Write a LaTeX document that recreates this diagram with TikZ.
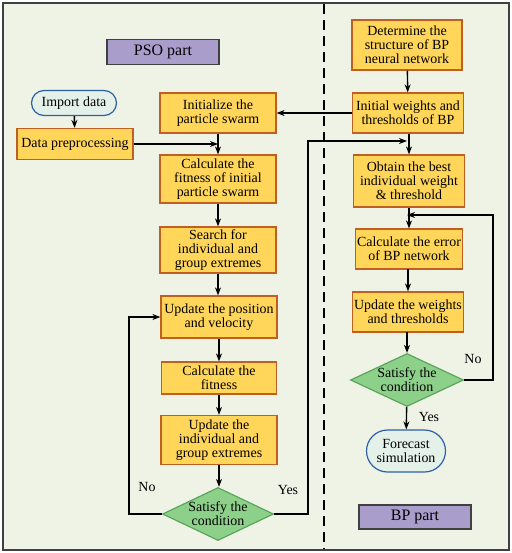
\documentclass[tikz,border=0pt]{standalone}
\usepackage{fontspec}
\setmainfont{Liberation Serif}
\newfontfamily\chartfont{Liberation Serif}
\usetikzlibrary{shapes.geometric,shapes.misc,arrows.meta}
\definecolor{bgfill}{RGB}{238,243,230}
\definecolor{boxfill}{RGB}{255,213,90}
\definecolor{boxline}{RGB}{192,96,32}
\definecolor{condfill}{RGB}{141,208,138}
\definecolor{condline}{RGB}{91,165,91}
\definecolor{endfill}{RGB}{228,241,232}
\definecolor{endline}{RGB}{46,95,168}
\definecolor{partfill}{RGB}{169,157,204}
\begin{document}
\begin{tikzpicture}[x=1bp,y=-1bp,
  every node/.style={font=\chartfont\fontsize{14}{14}\selectfont},
  box/.style={draw=boxline,fill=boxfill,line width=1.2bp,align=center,inner sep=0pt},
  cond/.style={diamond,aspect=2.1,draw=condline,fill=condfill,line width=1.2bp,align=center,inner sep=-2bp,minimum width=111bp,minimum height=53bp},
  term/.style={rounded rectangle,draw=endline,fill=endfill,line width=1.2bp,align=center,inner sep=0pt},
  part/.style={draw=black!75,fill=partfill,line width=1.2bp,inner sep=0pt,font=\chartfont\fontsize{16}{16}\selectfont},
  flow/.style={line width=1.4bp,-{Stealth[length=8bp,width=6bp]}}]
\useasboundingbox (0,0) rectangle (512,553);

%Shape: Frame
\draw [draw=black!75,fill=bgfill,line width=1.6bp] (3,3) rectangle (509,550);
%Straight Lines: divider
\draw [line width=1.5bp,dash pattern={on 10bp off 6bp}] (324,4) -- (324,549);

% PSO side
\draw (163,52) node [part,minimum width=112bp,minimum height=25bp] (psopart) {PSO part};
\draw (74,103) node [term,minimum width=85bp,minimum height=25bp] (import) {Import data};
\draw (75,144) node [box,minimum width=116bp,minimum height=31bp] (prep) {Data preprocessing};
\draw (218,113) node [box,minimum width=116bp,minimum height=40bp] (init) {Initialize the\\particle swarm};
\draw (218,179) node [box,minimum width=116bp,minimum height=48bp] (fitinit) {Calculate the\\fitness of initial\\particle swarm};
\draw (218,250) node [box,minimum width=116bp,minimum height=46bp] (search) {Search for\\individual and\\group extremes};
\draw (219,317) node [box,minimum width=116bp,minimum height=42bp] (updpos) {Update the position\\and velocity};
\draw (219,378) node [box,minimum width=115bp,minimum height=32bp] (fit) {Calculate the\\fitness};
\draw (219,440) node [box,minimum width=116bp,minimum height=49bp] (updext) {Update the\\individual and\\group extremes};
\draw (218,514) node [cond] (condpso) {Satisfy the\\condition};

% BP side
\draw (407,45) node [box,minimum width=110bp,minimum height=50bp] (structure) {Determine the\\structure of BP\\neural network};
\draw (408,113) node [box,minimum width=111bp,minimum height=40bp] (initw) {Initial weights and\\thresholds of BP};
\draw (409,181) node [box,minimum width=111bp,minimum height=52bp] (best) {Obtain the best\\individual weight\\\& threshold};
\draw (409,249) node [box,minimum width=107bp,minimum height=40bp] (error) {Calculate the error\\of BP network};
\draw (408,312) node [box,minimum width=111bp,minimum height=40bp] (updw) {Update the weights\\and thresholds};
\draw (407,380) node [cond,minimum width=113bp] (condbp) {Satisfy the\\condition};
\draw (406,451) node [term,minimum width=79bp,minimum height=42bp] (forecast) {Forecast\\simulation};
\draw (415,517) node [part,minimum width=112bp,minimum height=24bp] (bppart) {BP part};

\coordinate (joinbp) at (407,141);
\coordinate (joinerr) at (407,215);

%Straight Lines: PSO flow
\draw [flow] (import) -- (prep);
\draw [flow] (prep.east) -- (prep.east -| init.south);
\draw [flow] (init) -- (fitinit);
\draw [flow] (fitinit) -- (search);
\draw [flow] (search.south) -- (search.south |- updpos.north);
\draw [flow] (updpos) -- (fit);
\draw [flow] (fit) -- (updext);
\draw [flow] (updext.south) -- (updext.south |- condpso.north);
\draw [flow] (condpso.west) -- ++(-33,0) |- (updpos.west);
\draw [flow] (condpso.east) -- ++(34,0) |- (joinbp);

%Straight Lines: BP flow
\draw [flow] (structure) -- (initw);
\draw [flow] (initw.west) -- (init.east);
\draw [flow] (initw.south -| best.north) -- (best.north);
\draw [flow] (best) -- (error);
\draw [flow] (error.south) -- (error.south -| updw.north) -- (updw.north);
\draw [flow] (updw.south) -- (updw.south -| condbp.north) -- (condbp.north);
\draw [flow] (condbp) -- (forecast);
\draw [flow] (condbp.east) -- ++(29,0) |- (joinerr);

% Text Node
\draw (147,487) node {No};
\draw (288,490) node {Yes};
\draw (473,359) node {No};
\draw (429,417) node {Yes};

\end{tikzpicture}
\end{document}
